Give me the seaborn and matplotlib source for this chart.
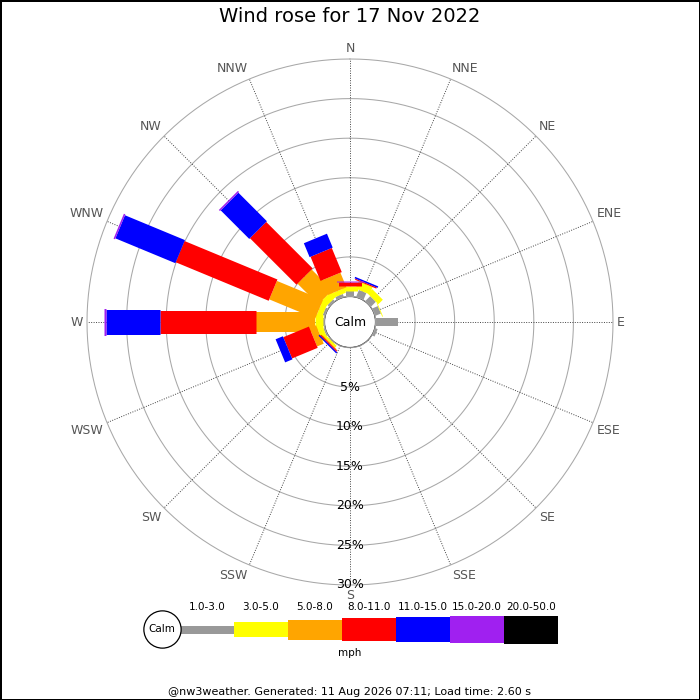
import numpy as np
import matplotlib
matplotlib.use('Agg')
import matplotlib.pyplot as plt
from matplotlib.patches import Circle
import seaborn as sns

# Дані: частота (%) для кожного напрямку та класу швидкості
directions = ['N', 'NNE', 'NE', 'ENE', 'E', 'ESE', 'SE', 'SSE',
              'S', 'SSW', 'SW', 'WSW', 'W', 'WNW', 'NW', 'NNW']
speed_bins = ['1.0-3.0', '3.0-5.0', '5.0-8.0', '8.0-11.0', '11.0-15.0', '15.0-20.0', '20.0-50.0']
f_1_3 = [0.7, 0.95, 0.9, 0.8, 2.85, 0.35, 0, 0, 0, 0, 0.1, 0.2, 0.2, 0.3, 0.3, 0.4]
f_3_5 = [0.6, 1.0, 0.8, 0.1, 0, 0, 0, 0, 0, 0, 0.3, 0.7, 1.0, 0.7, 0.9, 0.6]
f_5_8 = [0, 0, 0, 0, 0, 0, 0, 0, 0, 0, 0.1, 0.9, 7.4, 6.3, 3.7, 2.0]
f_8_11 = [0.5, 0.15, 0, 0, 0, 0, 0, 0, 0, 0, 0.15, 3.5, 12.2, 12.7, 8.3, 3.3]
f_11_15 = [0, 0.2, 0, 0, 0, 0, 0, 0, 0, 0, 0.17, 1.0, 6.8, 8.2, 5.1, 1.9]
f_15_20 = [0.2, 0, 0, 0, 0, 0, 0, 0, 0, 0, 0, 0, 0.2, 0.2, 0.2, 0]
f_20_50 = [0] * 16
rings = [5, 10, 15, 20, 25, 30]

title = 'Wind rose for 17 Nov 2022'
footer = '@nw3weather. Generated: 11 Aug 2026 07:11; Load time: 2.60 s'

colors = ['#999999', '#ffff00', '#ffa500', '#ff0000', '#0000ff', '#a020f0', '#000000']
bar_px = np.array([8, 15, 20, 23, 25, 27, 28])  # ширина смуги кожного класу, px

sns.set_style('white')
plt.rcParams['font.family'] = ['DejaVu Sans']
plt.rcParams['text.color'] = 'black'

fig = plt.figure(figsize=(7, 7), dpi=100, edgecolor='black', linewidth=2)

# Полярна вісь: 0% на краю кола "Calm"
ax = fig.add_axes([87 / 700, 115 / 700, 526 / 700, 526 / 700], projection='polar')
ax.set_theta_zero_location('N')
ax.set_theta_direction(-1)
ax.set_ylim(0, 30)
ax.set_rorigin(-3.22)
ax.grid(False)
ax.set_xticks([])
ax.set_yticks([])
for sp in ax.spines.values():
    sp.set_visible(False)

thetas = np.deg2rad(np.arange(16) * 22.5)
full = np.linspace(0, 2 * np.pi, 361)
for r in rings:
    ax.plot(full, [r] * len(full), color='#a8a8a8', lw=0.75, zorder=1, clip_on=False)
for th in thetas:
    ax.plot([th, th], [0, 30], color='#444444', ls=(0, (1, 1.5)), lw=0.7, zorder=1)

# Стовпці по класах (накопичувальні)
freq = np.array([f_1_3, f_3_5, f_5_8, f_8_11, f_11_15, f_15_20, f_20_50])
cum = np.cumsum(freq, axis=0)
for k in range(len(speed_bins)):
    start = cum[k] - freq[k]
    for d, th in enumerate(thetas):
        if freq[k][d] > 0:
            ax.plot([th, th], [start[d], cum[k][d]], color=colors[k],
                    lw=bar_px[k] * 0.72, solid_capstyle='butt', zorder=3 + k)

ax.add_patch(Circle((0.5, 0.5), 25.5 / 526, transform=ax.transAxes,
                    facecolor='white', edgecolor='#aaaaaa', lw=1, zorder=20))
ax.text(0.5, 0.5, 'Calm', transform=ax.transAxes, ha='center', va='center',
        fontsize=9, zorder=21)

for r in rings:
    ax.text(np.pi, r, f'{r}%', ha='center', va='center', fontsize=9, zorder=22)

for th, name in zip(thetas, directions):
    s, c = np.sin(th), np.cos(th)
    ha = 'left' if s > 0.1 else ('right' if s < -0.1 else 'center')
    va = 'bottom' if c > 0.1 else ('top' if c < -0.1 else 'center')
    ax.text(th, 30.5, name, ha=ha, va=va, fontsize=9, color='#555555')

fig.text(0.5, 1 - 17 / 700, title, ha='center', va='center', fontsize=14)

# Легенда
axl = fig.add_axes([140 / 700, 38 / 700, 420 / 700, 64 / 700])
axl.set_xlim(-1.24, 6.54)
axl.set_ylim(-33, 31)
axl.axis('off')
idx = np.arange(len(speed_bins))
axl.bar(idx, bar_px, bottom=-bar_px / 2 - 0.5, width=1, color=colors, edgecolor='none')
for i, lab in enumerate(speed_bins):
    axl.text(i, 22, lab, ha='center', va='center', fontsize=7.5)
axl.scatter([-0.83], [0], s=720, facecolor='white', edgecolor='black', lw=0.9, zorder=5)
axl.text(-0.83, 0, 'Calm', ha='center', va='center', fontsize=7.5, zorder=6)
fig.text(0.5, 1 - 653 / 700, 'mph', ha='center', va='center', fontsize=7.5)

fig.text(0.5, 1 - 692 / 700, footer, ha='center', va='center', fontsize=8)

fig.savefig('out.png', dpi=100, facecolor='white', edgecolor='black')
